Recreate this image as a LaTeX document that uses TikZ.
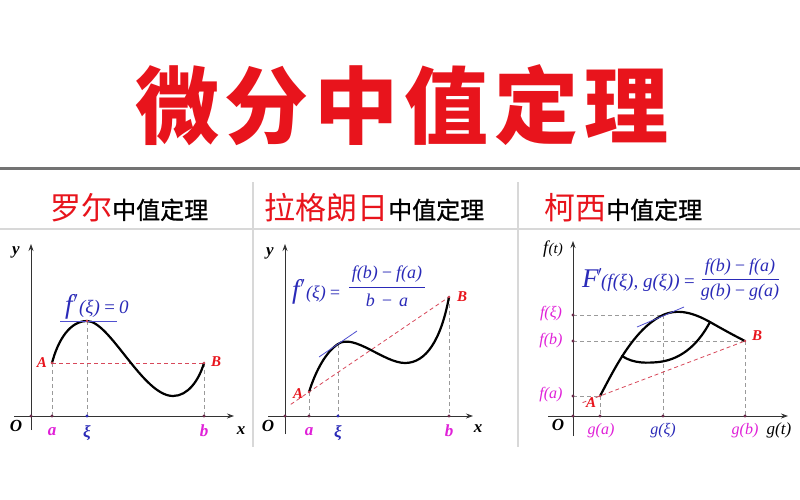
\documentclass[tikz,border=0pt]{standalone}
\usepackage{fontspec}
\setmainfont{Liberation Serif}
\newfontfamily\cjk{Noto Sans CJK SC}
\newfontfamily\cjkm[FakeBold=1]{Noto Sans CJK SC}
\usetikzlibrary{arrows.meta,calc}
\definecolor{tred}{HTML}{E8141C}
\definecolor{fblue}{HTML}{2A2AB8}
\definecolor{mag}{HTML}{E020D8}
\definecolor{dred}{HTML}{D8485A}
\definecolor{gdash}{HTML}{9A9A9A}
\definecolor{dotc}{HTML}{6A2A4A}
\definecolor{sepc}{HTML}{D8D8D8}
\definecolor{tangc}{HTML}{5050D0}
\tikzset{
  axis/.style={draw=black!80,line width=0.8pt,-{Stealth[length=7pt,width=5pt]}},
  curve/.style={draw=black,line width=2.2pt,line cap=round},
  tang/.style={draw=tangc,line width=0.8pt},
  rdash/.style={draw=dred,line width=0.8pt,dash pattern=on 4pt off 3pt},
  gdashed/.style={draw=gdash,line width=0.7pt,dash pattern=on 4pt off 3pt},
  pdot/.style={circle,fill=dotc,inner sep=0pt,minimum size=3.4pt},
  ax/.style={inner sep=0pt,font=\bfseries\itshape\fontsize{17}{17}\selectfont},
  tk/.style={inner sep=0pt,font=\bfseries\itshape\fontsize{17}{17}\selectfont},
  pt/.style={inner sep=0pt,text=tred,font=\bfseries\itshape\fontsize{15}{15}\selectfont},
  fm/.style={inner sep=0pt,text=fblue,font=\itshape\fontsize{18}{18}\selectfont},
  fl/.style={inner sep=0pt,text=mag,font=\itshape\fontsize{16}{16}\selectfont},
  hd/.style={inner sep=0pt,anchor=base west},
}
\newcommand{\pr}{\raisebox{0.12em}{\fontsize{20}{20}\selectfont\upshape\bfseries$^{\prime}$}}
\begin{document}
\begin{tikzpicture}[x=1pt,y=-1pt]
\useasboundingbox (0,0) rectangle (800,500);
\fill[white] (0,0) rectangle (800,500);
% title
\node[inner sep=0pt,anchor=base,text=tred] (title) at (402,138)
  {\cjk\bfseries\fontsize{84}{84}\selectfont 微\hspace{6pt}分\hspace{6pt}中\hspace{6pt}值\hspace{6pt}定\hspace{6pt}理};
% frame lines
\draw[draw=black!55,line width=3pt] (0,168.5) -- (800,168.5);
\draw[draw=sepc,line width=1.2pt] (0,229) -- (800,229);
\draw[draw=sepc,line width=1.2pt] (253,182) -- (253,447);
\draw[draw=sepc,line width=1.2pt] (518,182) -- (518,447);
% headers
\node[hd] (h1) at (50,219) {{\cjk\color{tred}\fontsize{31}{31}\selectfont 罗尔}{\cjkm\fontsize{24}{24}\selectfont 中值定理}};
\node[hd] (h2) at (264,219) {{\cjk\color{tred}\fontsize{31}{31}\selectfont 拉格朗日}{\cjkm\fontsize{24}{24}\selectfont 中值定理}};
\node[hd] (h3) at (544,219) {{\cjk\color{tred}\fontsize{31}{31}\selectfont 柯西}{\cjkm\fontsize{24}{24}\selectfont 中值定理}};

%%%%%%%% Panel 1: Rolle
\coordinate (o1) at (31,416);
\coordinate (y1b) at (31,430); \coordinate (y1t) at (31,244);
\coordinate (x1l) at (14,416); \coordinate (x1r) at (234,416);
\coordinate (A1) at (52,363); \coordinate (M1) at (87,321); \coordinate (B1) at (204,363);
\coordinate (a1) at (52,416); \coordinate (xi1) at (87,416); \coordinate (b1) at (204,416);
\draw[axis] (y1b) -- (y1t);
\draw[axis] (x1l) -- (x1r);
\draw[gdashed] (A1) -- (a1);
\draw[gdashed] (M1) -- (xi1);
\draw[gdashed] (B1) -- (b1);
\draw[rdash] (A1) -- (B1);
\draw[curve] (A1) .. controls (58,340) and (70,321) .. (M1)
  .. controls (110,321) and (143,396) .. (173,396)
  .. controls (188,396) and (199,380) .. (B1);
\coordinate (t1a) at (60,321); \coordinate (t1b) at (117,321);
\draw[tang] (t1a) -- (t1b);
\node[pdot] (d1o) at (o1) {}; \node[pdot] (d1a) at (a1) {};
\node[pdot,fill=fblue] (d1x) at (xi1) {}; \node[pdot] (d1b) at (b1) {};
\node[pdot,fill=dred,minimum size=2.6pt] (d1m) at (M1) {};
\node[pdot,fill=dred,minimum size=2.6pt] (d1A) at (A1) {};
\node[pdot,fill=dred,minimum size=2.6pt] (d1B) at (B1) {};
\node[ax] (ly1) at (16,252) {y};
\node[ax] (lx1) at (241,431) {x};
\node[ax] (lo1) at (16,426) {O};
\node[tk,text=mag] (la1) at (52,432) {a};
\node[tk,text=fblue] (lxi1) at (87,433) {ξ};
\node[tk,text=mag] (lb1) at (204,431) {b};
\node[pt] (lA1) at (42,363) {A};
\node[pt] (lB1) at (216,362) {B};
\node[inner sep=0pt,anchor=base west,text=fblue] (f1) at (65,313)
  {\itshape\fontsize{27}{27}\selectfont f\kern1pt\pr\kern1pt\fontsize{19}{19}\selectfont(ξ)\,=\,0};

%%%%%%%% Panel 2: Lagrange
\coordinate (o2) at (285,416);
\coordinate (y2b) at (285,434); \coordinate (y2t) at (285,244);
\coordinate (x2l) at (268,416); \coordinate (x2r) at (473,416);
\coordinate (A2) at (309,392); \coordinate (X2) at (338,344); \coordinate (B2) at (449,297);
\coordinate (a2) at (309,416); \coordinate (xi2) at (338,416); \coordinate (b2) at (449,416);
\coordinate (E2) at ($(A2)!-0.13!(B2)$);
\draw[axis] (y2b) -- (y2t);
\draw[axis] (x2l) -- (x2r);
\draw[gdashed] (A2) -- (a2);
\draw[gdashed] (X2) -- (xi2);
\draw[gdashed] (B2) -- (b2);
\draw[rdash] (E2) -- (B2);
\draw[curve] (A2) .. controls (316,370) and (326,352) .. (X2)
  .. controls (354,333) and (384,363) .. (405,363)
  .. controls (426,363) and (441,340) .. (B2);
\coordinate (t2a) at (319,357); \coordinate (t2b) at (357,331);
\draw[tang] (t2a) -- (t2b);
\node[pdot] (d2o) at (o2) {}; \node[pdot] (d2a) at (a2) {};
\node[pdot,fill=fblue] (d2x) at (xi2) {}; \node[pdot] (d2b) at (b2) {};
\node[pdot,fill=dred,minimum size=2.6pt] (d2A) at (A2) {};
\node[pdot,fill=dred,minimum size=2.6pt] (d2B) at (B2) {};
\node[ax] (ly2) at (270,253) {y};
\node[ax] (lx2) at (478,429) {x};
\node[ax] (lo2) at (268,426) {O};
\node[tk,text=mag] (la2) at (309,432) {a};
\node[tk,text=fblue] (lxi2) at (338,433) {ξ};
\node[tk,text=mag] (lb2) at (449,431) {b};
\node[pt] (lA2) at (298,394) {A};
\node[pt] (lB2) at (462,297) {B};
\node[inner sep=0pt,anchor=base west,text=fblue] (f2) at (292,298)
  {\itshape\fontsize{27}{27}\selectfont f\kern1pt\pr\kern1pt\fontsize{18}{18}\selectfont(ξ)\,=};
\node[fm] (n2) at (387,274) {f(b)\,−\,f(a)};
\node[fm] (m2) at (387,300) {b\,\,−\,\,a};
\coordinate (bar2a) at (349,287); \coordinate (bar2b) at (425,287);
\draw[draw=fblue,line width=0.9pt] (bar2a) -- (bar2b);

%%%%%%%% Panel 3: Cauchy
\coordinate (o3) at (573,416);
\coordinate (y3b) at (573,436); \coordinate (y3t) at (573,241);
\coordinate (x3l) at (548,416); \coordinate (x3r) at (788,416);
\coordinate (A3) at (600,396); \coordinate (X3) at (663,315); \coordinate (B3) at (745,341);
\coordinate (ga3) at (600,416); \coordinate (gx3) at (663,416); \coordinate (gb3) at (745,416);
\coordinate (fx3) at (573,315); \coordinate (fb3) at (573,341); \coordinate (fa3) at (573,396);
\coordinate (E3) at ($(A3)!-0.12!(B3)$);
\draw[axis] (y3b) -- (y3t);
\draw[axis] (x3l) -- (x3r);
\draw[gdashed] (fx3) -- (X3);
\draw[gdashed] (fb3) -- (B3);
\draw[gdashed] (fa3) -- (A3);
\draw[gdashed] (X3) -- (gx3);
\draw[gdashed] (B3) -- (gb3);
\draw[gdashed] (A3) -- (ga3);
\draw[rdash] (E3) -- (B3);
\coordinate (J3) at (710,322); \coordinate (K3) at (622,356);
\draw[curve] (A3) .. controls (613,372) and (633,329) .. (X3)
  .. controls (681,307) and (699,316) .. (J3)
  .. controls (724,330) and (735,336) .. (B3);
\draw[curve] (K3) .. controls (634,364) and (648,363) .. (659,362)
  .. controls (684,359) and (700,341) .. (J3);
\coordinate (t3a) at (637,327); \coordinate (t3b) at (684,307);
\draw[tang] (t3a) -- (t3b);
\node[pdot] (d3o) at (o3) {};
\node[pdot] (d3ga) at (ga3) {}; \node[pdot] (d3gx) at (gx3) {}; \node[pdot] (d3gb) at (gb3) {};
\node[pdot] (d3fx) at (fx3) {}; \node[pdot] (d3fb) at (fb3) {}; \node[pdot] (d3fa) at (fa3) {};
\node[pdot,fill=dred,minimum size=2.6pt] (d3A) at (A3) {};
\node[pdot,fill=dred,minimum size=2.6pt] (d3B) at (B3) {};
\node[inner sep=0pt,font=\itshape\fontsize{18}{18}\selectfont] (ly3) at (553,249) {f\kern0.5pt{\fontsize{15}{15}\selectfont(t)}};
\node[inner sep=0pt,font=\itshape\fontsize{17}{17}\selectfont] (lx3) at (779,430) {g(t)};
\node[ax] (lo3) at (558,425) {O};
\node[fl] (lga3) at (601,431) {g(a)};
\node[fm,font=\itshape\fontsize{16}{16}\selectfont] (lgx3) at (663,431) {g(ξ)};
\node[fl] (lgb3) at (745,431) {g(b)};
\node[fl] (lfx3) at (551,314) {f(ξ)};
\node[fl] (lfb3) at (551,341) {f(b)};
\node[fl] (lfa3) at (551,395) {f(a)};
\node[pt] (lA3) at (591,403) {A};
\node[pt] (lB3) at (757,336) {B};
\node[inner sep=0pt,anchor=base west,text=fblue] (f3) at (582,287)
  {\itshape\fontsize{27}{27}\selectfont F\kern-1pt\pr\kern-1pt\fontsize{19}{19}\selectfont(f(ξ), g(ξ))\,=};
\node[fm] (n3) at (740,267) {f(b)\,−\,f(a)};
\node[fm] (m3) at (740,292) {g(b)\,−\,g(a)};
\coordinate (bar3a) at (702,279); \coordinate (bar3b) at (779,279);
\draw[draw=fblue,line width=0.9pt] (bar3a) -- (bar3b);
\end{tikzpicture}
\end{document}
